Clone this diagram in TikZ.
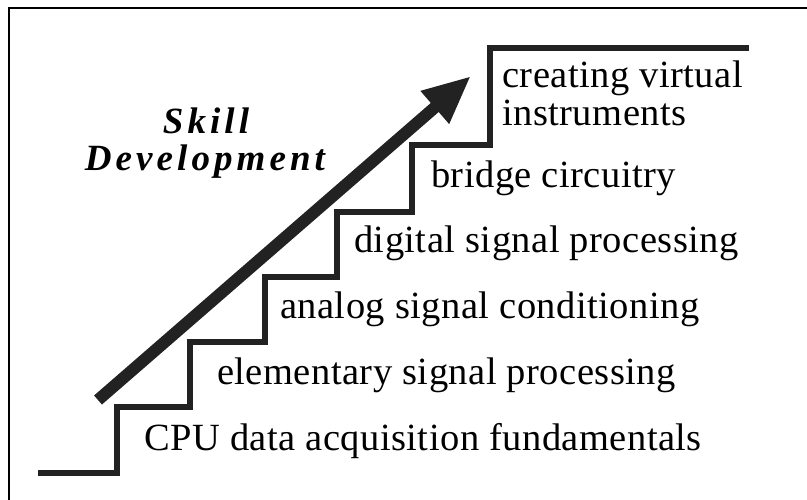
\documentclass[tikz,border=0pt]{standalone}
\usepackage{fontspec}
\setmainfont{Liberation Serif}
\usepackage{tikz}
\usetikzlibrary{positioning,arrows.meta}
\newfontfamily\labelfont[LetterSpace=1.2]{Liberation Serif}
\newfontfamily\skillfont[LetterSpace=11]{Liberation Serif}
\definecolor{stairgray}{RGB}{34,34,34}
\tikzset{step label/.style={anchor=base west,inner sep=0pt,font=\labelfont\fontsize{38.5}{40}\selectfont}}
\tikzset{skill label/.style={anchor=base,inner sep=0pt,font=\skillfont\bfseries\itshape\fontsize{37}{40}\selectfont}}
\tikzset{stair line/.style={draw=stairgray,line width=5.5pt,line join=miter}}

\begin{document}
\begin{tikzpicture}[x=1pt,y=-1pt]
            \useasboundingbox (0,0) rectangle (807,500);
            \draw[line width=2pt] (9,500) |- (807,7.7);

            % the stairs
            \draw[stair line] (38,473) -- (117,473) -- (117,407) -- (190,407) -- (190,342)
                -- (265,342) -- (265,277) -- (337,277) -- (337,212) -- (412,212)
                -- (412,145) -- (490,145) -- (490,48) -- (749,48);

            \node[step label] (cpu) at (144,450) {CPU data acquisition fundamentals};
            \node[step label] (elem) at (217,384) {elementary signal processing};
            \node[step label] (analog) at (280,319) {analog signal conditioning};
            \node[step label] (digital) at (354,253) {digital signal processing};
            \node[step label] (bridge) at (431,188) {bridge circuitry};
            \node[step label] (virt) at (502,88) {creating virtual};
            \node[step label] (instr) at (502,126) {instruments};

            \node[skill label] (skill) at (206,134) {Skill};
            \node[skill label] (devel) at (205,171) {Development};

            \coordinate (tail) at (98,400);
            \coordinate (tip) at (471,76);
            \draw[stairgray, line width=12pt, -{Triangle[length=48pt,width=40pt]}] (tail) -- (tip);
        \end{tikzpicture}
\end{document}
